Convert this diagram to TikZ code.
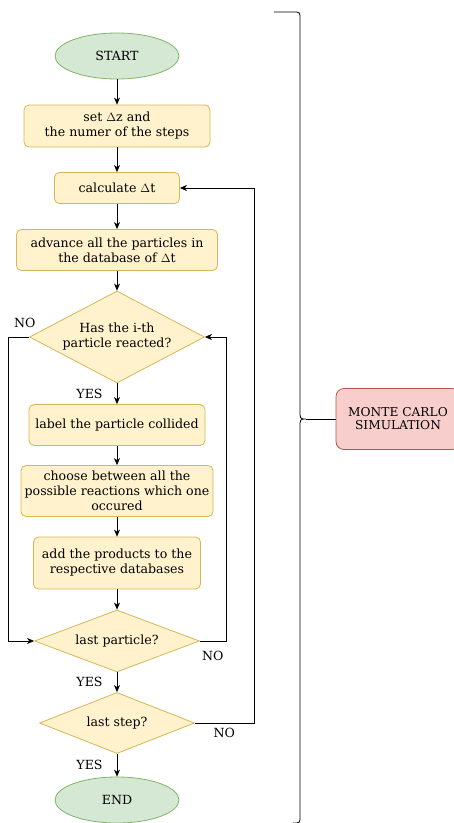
\documentclass[tikz,border=0pt]{standalone}
\usepackage{fontspec}
\setmainfont{DejaVu Serif}
\usepackage{tikz}
\usetikzlibrary{arrows.meta,shapes.geometric}

\definecolor{termfill}{HTML}{D5E8D4}
\definecolor{termline}{HTML}{82B366}
\definecolor{procfill}{HTML}{FFF2CC}
\definecolor{procline}{HTML}{D6B656}
\definecolor{simfill}{HTML}{F8CECC}
\definecolor{simline}{HTML}{B85450}

\begin{document}
\begin{tikzpicture}[x=1pt,y=-1pt,-,>={Stealth[length=7pt,width=6pt,inset=2pt]},
  line width=0.8pt,
  term node/.style={ellipse,fill=termfill,draw=termline,inner sep=0pt,
    minimum width=124pt,minimum height=46pt,font=\fontsize{12.6}{15}\selectfont},
  proc node/.style={rectangle,rounded corners=5pt,fill=procfill,draw=procline,
    inner sep=0pt,align=center,font=\fontsize{12.6}{15}\selectfont},
  dec node/.style={diamond,fill=procfill,draw=procline,inner sep=0pt,
    align=center,font=\fontsize{12.6}{15}\selectfont},
  sim node/.style={rectangle,rounded corners=8pt,fill=simfill,draw=simline,
    inner sep=0pt,align=center,font=\fontsize{12.2}{13}\selectfont},
  answer/.style={inner sep=0pt,font=\fontsize{12.6}{15}\selectfont}]
  \useasboundingbox (0,0) rectangle (454,823);

  \node[term node] (start) at (117,56) {START};
  \node[proc node,minimum width=186pt,minimum height=42pt] (setdz) at (117,126)
    {set $\Delta$z and\\the numer of the steps};
  \node[proc node,minimum width=125pt,minimum height=31pt] (calcdt) at (117,188)
    {calculate $\Delta$t};
  \node[proc node,minimum width=201pt,minimum height=41pt] (advance) at (117,250)
    {advance all the particles in\\the database of $\Delta$t};
  \node[dec node,aspect=1.9,minimum width=175pt,minimum height=92pt] (reacted) at (117,337)
    {Has the i-th\\particle reacted?};
  \node[proc node,minimum width=176pt,minimum height=41pt] (labelp) at (117,425)
    {label the particle collided};
  \node[proc node,minimum width=192pt,minimum height=51pt] (choose) at (117,491)
    {choose between all the\\possible reactions which one\\occured};
  \node[proc node,minimum width=167pt,minimum height=52pt] (addprod) at (117,563)
    {add the products to the\\respective databases};
  \node[dec node,aspect=2.66,minimum width=165pt,minimum height=62pt] (lastpart) at (117,641)
    {last particle?};
  \node[dec node,aspect=2.54,minimum width=155pt,minimum height=61pt] (laststep) at (117,723)
    {last step?};
  \node[term node] (end) at (117,800) {END};
  \node[sim node,minimum width=124pt,minimum height=61pt] (mc) at (398,419)
    {MONTE CARLO\\SIMULATION};

  \path[->]
    (start) edge (setdz)
    (setdz) edge (calcdt)
    (calcdt) edge (advance)
    (advance) edge (reacted)
    (reacted) edge node[answer,left=14pt] {YES} (labelp)
    (labelp) edge (choose)
    (choose) edge (addprod)
    (addprod) edge (lastpart)
    (lastpart) edge node[answer,left=14pt] {YES} (laststep)
    (laststep) edge node[answer,left=14pt] {YES} (end);

  \draw[->] (reacted.west) -- node[answer,pos=0.2,above=9pt] {NO} ++(-21,0)
    |- (lastpart.west);
  \draw[->] (lastpart.east) -- node[answer,below=10pt] {NO} ++(26,0)
    |- (reacted.east);
  \draw[->] (laststep.east) -- node[answer,below=5pt] {NO} ++(59,0)
    |- (calcdt.east);

  % brace round the flow chart
  \coordinate (tip) at (306,419);
  \draw (274,12) -- (293,12) .. controls (300,12) .. (300,19) -- (300,410)
    .. controls (300,419) .. (tip) .. controls (300,419) .. (300,428)
    -- (300,816) .. controls (300,823) .. (293,823);
  \draw (tip) -- (mc);
\end{tikzpicture}
\end{document}
